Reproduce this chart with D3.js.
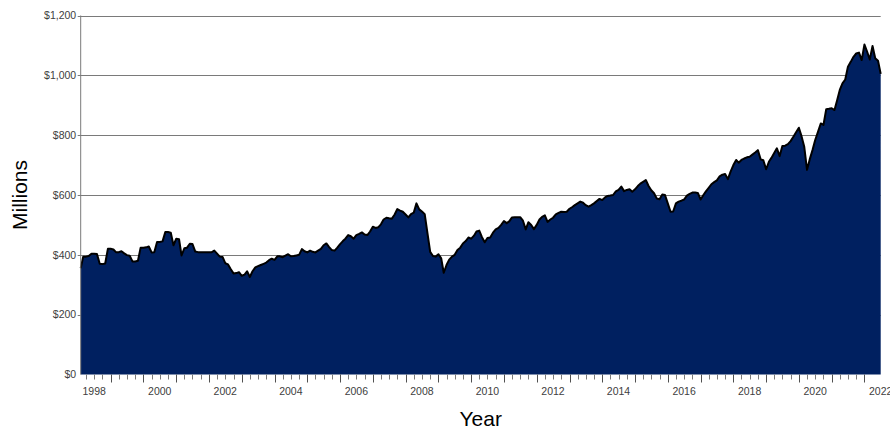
<!DOCTYPE html>
<html><head><meta charset="utf-8">
<script src="https://cdn.jsdelivr.net/npm/d3@7"></script>
<style>
body{margin:0;background:#fff}
text{font-family:"Liberation Sans",Arial,sans-serif}
</style>
</head><body>
<svg id="chart" width="890" height="430"></svg>
<script>
// Monthly values (millions of dollars), first value = Feb 1998
const y1998=[355,394,394,396,404,404,403,370,369,371,420];
const y1999=[420,418,409,409,412,405,399,397,378,378,380,424];
const y2000=[424,425,428,408,409,443,443,445,476,476,474,432];
const y2001=[454,452,398,422,424,437,436,411,409,409,409,409];
const y2002=[409,409,414,404,394,393,372,368,352,338,339,342];
const y2003=[330,334,345,326,345,358,362,366,370,374,382,387];
const y2004=[383,395,395,392,397,402,395,396,398,400,419,412];
const y2005=[408,414,410,408,414,420,432,438,426,416,414,424];
const y2006=[436,446,454,466,462,454,466,470,475,468,466,478];
const y2007=[494,490,492,502,518,524,522,521,535,553,548,544];
const y2008=[535,525,536,541,572,552,545,536,472,410,396,394];
const y2009=[402,388,340,366,384,394,400,416,424,438,446,458];
const y2010=[454,464,478,481,459,442,456,458,474,485,490,500];
const y2011=[513,506,512,525,526,526,526,514,485,509,500,486];
const y2012=[500,518,527,532,510,518,524,535,540,544,543,544];
const y2013=[554,560,566,572,578,574,566,561,566,572,580,587];
const y2014=[583,592,597,598,600,612,617,628,613,617,619,611];
const y2015=[619,630,638,644,650,630,616,606,588,586,602,600];
const y2016=[572,544,545,572,578,581,585,598,604,608,608,607];
const y2017=[585,600,612,624,636,643,649,662,668,670,653,678];
const y2018=[700,717,708,717,722,726,728,735,742,750,719,716];
const y2019=[686,711,724,740,756,730,764,765,770,780,795,810];
const y2020=[825,795,761,684,719,750,784,811,839,834,887,888];
const y2021=[890,884,915,951,973,986,1029,1045,1062,1073,1076,1051];
const y2022=[1103,1078,1053,1098,1057,1049,1005];
const yearSeries=[y1998,y1999,y2000,y2001,y2002,y2003,y2004,y2005,y2006,y2007,y2008,y2009,y2010,y2011,y2012,y2013,y2014,y2015,y2016,y2017,y2018,y2019,y2020,y2021,y2022];
const firstYear=1998, firstMonth=1; // Feb

const yTickValues=[0,200,400,600,800,1000,1200];
const xLabelYears=[1998,2000,2002,2004,2006,2008,2010,2012,2014,2016,2018,2020,2022];

// build data
const data=[];
yearSeries.forEach((arr,i)=>{
  const yr=firstYear+i;
  const m0 = i===0 ? firstMonth : 0;
  arr.forEach((v,j)=>data.push({date:new Date(yr,m0+j,1),v}));
});

const L=80.7,R=880.7,T=15.5,B=374.5;
const svg=d3.select("#chart");
const x=d3.scaleTime().domain([new Date(1998,1,1),new Date(2022,6,1)]).range([L,R]);
const y=d3.scaleLinear().domain([0,1200]).range([B,T]);

// gridlines
svg.append("g").selectAll("line").data(yTickValues.filter(d=>d>0)).join("line")
  .attr("x1",L-3).attr("x2",R).attr("y1",d=>Math.round(y(d))+0.5).attr("y2",d=>Math.round(y(d))+0.5)
  .attr("stroke","#7a7a7a").attr("stroke-width",1);

// area
const area=d3.area().x(d=>x(d.date)).y0(y(0)).y1(d=>y(d.v));
svg.append("path").datum(data).attr("d",area).attr("fill","#002060");
const line=d3.line().x(d=>x(d.date)).y(d=>y(d.v));
svg.append("path").datum(data).attr("d",line).attr("fill","none")
  .attr("stroke","#000").attr("stroke-width",2).attr("stroke-linejoin","round");

// left axis line
svg.append("line").attr("x1",L).attr("x2",L).attr("y1",T).attr("y2",B)
  .attr("stroke","#7a7a7a").attr("stroke-width",1);

// y labels
svg.append("g").selectAll("text").data(yTickValues).join("text")
  .attr("x",L-4.5).attr("y",d=>y(d)).attr("dy","0.35em").attr("text-anchor","end")
  .attr("font-size","10.5px").attr("fill","#404040")
  .text(d=>"$"+d3.format(",")(d));

// x ticks
const majors=d3.timeYear.range(new Date(1999,0,1),new Date(2022,0,2));
const minors=d3.timeMonth.every(3).range(new Date(1998,3,1),new Date(2022,0,1)).filter(d=>d.getMonth()!==0);
svg.append("g").selectAll("line").data(minors).join("line")
  .attr("x1",d=>Math.round(x(d))+0.5).attr("x2",d=>Math.round(x(d))+0.5).attr("y1",B).attr("y2",B+5)
  .attr("stroke","#7a7a7a");
svg.append("g").selectAll("line").data(majors).join("line")
  .attr("x1",d=>Math.round(x(d))+0.5).attr("x2",d=>Math.round(x(d))+0.5).attr("y1",B).attr("y2",B+8)
  .attr("stroke","#505050");
svg.append("g").selectAll("text").data(xLabelYears).join("text")
  .attr("x",d=>x(new Date(d,6,1))).attr("y",395).attr("text-anchor","middle")
  .attr("font-size","10.5px").attr("fill","#404040").text(d=>d);

// titles
svg.append("text").attr("transform",`translate(27,${(T+B)/2}) rotate(-90)`)
  .attr("text-anchor","middle").attr("font-size","21px").attr("fill","#000").text("Millions");
svg.append("text").attr("x",(L+R)/2).attr("y",426).attr("text-anchor","middle")
  .attr("font-size","21px").attr("fill","#000").text("Year");
</script>
</body></html>
